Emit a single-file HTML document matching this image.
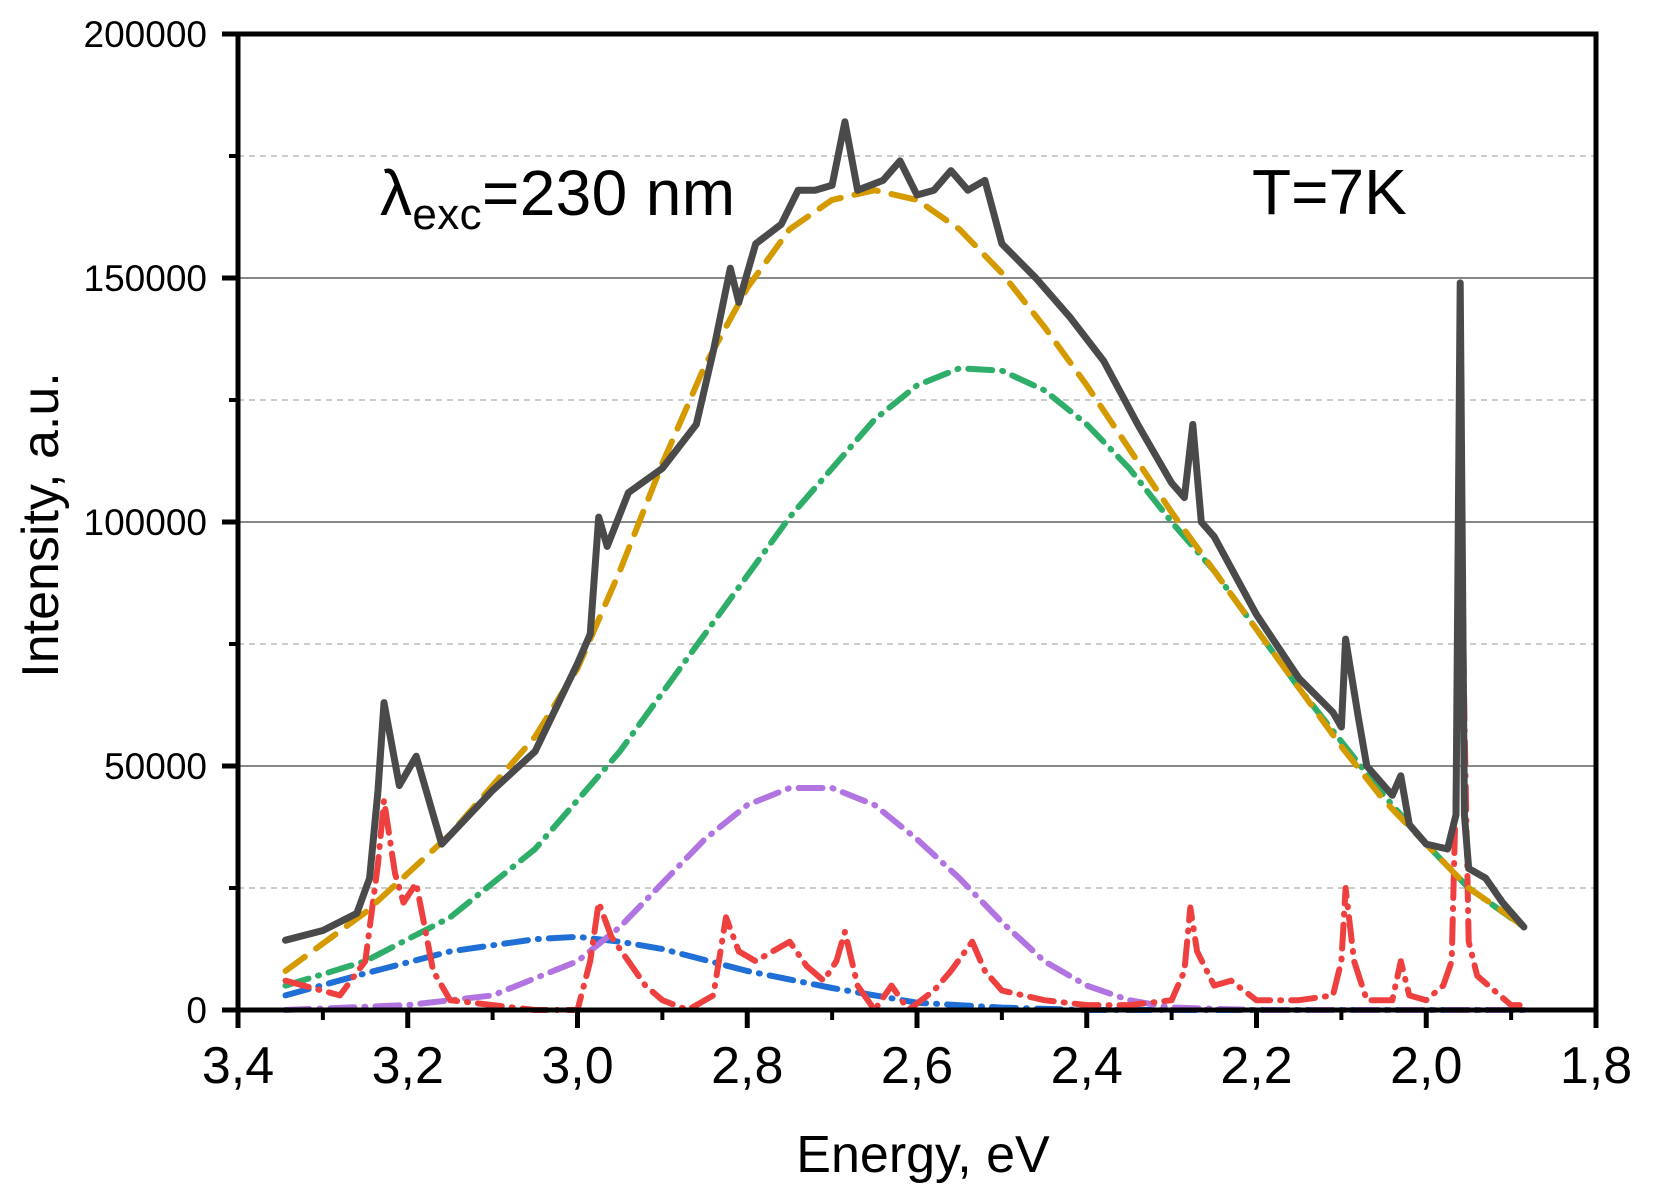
<!DOCTYPE html>
<html><head><meta charset="utf-8"><style>
html,body{margin:0;padding:0;background:#fff;}
svg{display:block;font-family:"Liberation Sans",Arial,sans-serif;}
</style></head><body>
<svg id="chart" width="1663" height="1191" viewBox="0 0 1663 1191">
<g id="grid"></g>
<g id="series"></g>
<rect x="238" y="34" width="1358" height="976" fill="none" stroke="#000" stroke-width="5"/>
<g id="axes"></g>
<text x="58" y="525" transform="rotate(-90 58 525)" font-size="52" text-anchor="middle">Intensity, a.u.</text>
<text x="923" y="1172" font-size="52" text-anchor="middle">Energy, eV</text>
<text x="380" y="215" font-size="64" textLength="355">λ<tspan font-size="44" dy="14">exc</tspan><tspan dy="-14">=230 nm</tspan></text>
<text x="1252" y="214" font-size="64">T=7K</text>
</svg>
<script>
const xTicks=[3.4,3.2,3.0,2.8,2.6,2.4,2.2,2.0,1.8];
const xTickLabels=["3,4","3,2","3,0","2,8","2,6","2,4","2,2","2,0","1,8"];
const yTicks=[0,50000,100000,150000,200000];
const yTickLabels=["0","50000","100000","150000","200000"];
const yMinor=[25000,75000,125000,175000];
const totalE=[3.344,3.30,3.26,3.245,3.235,3.228,3.21,3.19,3.16,3.10,3.05,3.0,2.985,2.975,2.965,2.94,2.9,2.86,2.84,2.82,2.81,2.79,2.76,2.74,2.72,2.70,2.685,2.67,2.64,2.62,2.60,2.58,2.56,2.54,2.52,2.50,2.46,2.42,2.38,2.34,2.30,2.285,2.275,2.265,2.25,2.20,2.15,2.11,2.10,2.095,2.08,2.07,2.04,2.03,2.02,2.0,1.975,1.965,1.96,1.955,1.95,1.93,1.91,1.885];
const totalI=[14300,16300,19800,27000,45000,63000,46000,52000,34000,45000,53000,71000,77000,101000,95000,106000,111000,120000,135000,152000,145000,157000,161000,168000,168000,169000,182000,168000,170000,174000,167000,168000,172000,168000,170000,157000,150000,142000,133000,120000,108000,105000,120000,100000,97000,81000,68000,61000,58000,76000,60000,50000,44000,48000,38000,34000,33000,40000,149000,40000,29000,27000,22000,17000];
const fitE=[3.344,3.25,3.15,3.05,3.0,2.95,2.9,2.85,2.8,2.75,2.7,2.65,2.6,2.55,2.5,2.45,2.4,2.35,2.3,2.25,2.2,2.15,2.1,2.05,2.0,1.95,1.9,1.885];
const fitI=[8000,20000,36000,56000,70000,90000,112000,132000,148000,160000,166000,168000,166000,160000,151000,140000,128000,115000,102000,90000,78000,66000,54000,43000,34000,25000,19000,17000];
const greenE=[3.344,3.25,3.15,3.05,2.95,2.85,2.75,2.7,2.65,2.6,2.55,2.5,2.45,2.4,2.35,2.3,2.25,2.2,2.15,2.1,2.05,2.0,1.95,1.885];
const greenI=[5000,10000,19000,33000,53000,77000,101000,111000,121000,128000,131500,131000,127000,120000,111000,100000,90000,78000,66000,55000,44000,34000,25000,17000];
const purpleE=[3.344,3.2,3.1,3.0,2.95,2.9,2.85,2.8,2.75,2.7,2.65,2.6,2.55,2.5,2.45,2.4,2.35,2.3,2.2,1.885];
const purpleI=[0,1000,3000,10000,17000,26000,35000,42000,45500,45500,42000,35000,27000,18000,10000,5000,2000,500,0,0];
const blueE=[3.344,3.25,3.15,3.05,3.0,2.95,2.9,2.8,2.7,2.6,2.5,2.4,1.885];
const blueI=[3000,7500,12000,14500,15000,14000,12500,8000,4500,1500,500,0,0];
const redE=[3.344,3.28,3.25,3.235,3.228,3.215,3.205,3.19,3.17,3.15,3.10,3.05,3.0,2.985,2.975,2.96,2.94,2.92,2.9,2.87,2.84,2.825,2.81,2.79,2.77,2.75,2.73,2.71,2.695,2.685,2.67,2.65,2.63,2.61,2.58,2.56,2.535,2.52,2.5,2.45,2.4,2.35,2.30,2.285,2.278,2.27,2.25,2.23,2.2,2.15,2.11,2.10,2.095,2.085,2.07,2.04,2.03,2.02,2.0,1.98,1.97,1.963,1.96,1.955,1.95,1.94,1.92,1.90,1.89];
const redI=[6000,3000,10000,30000,43000,28000,22000,26000,8000,2000,1000,0,0,10000,22000,15000,10000,5000,2000,0,3000,19000,12000,10000,12000,14000,9000,6000,10000,16000,5000,0,5000,0,4000,8000,14000,8000,4000,2000,1000,1000,2000,8000,21000,12000,5000,6000,2000,2000,3000,10000,25000,10000,2000,2000,10000,3000,2000,5000,10000,60000,122000,60000,14000,7000,4000,1000,1000];

const NS="http://www.w3.org/2000/svg";
const X0=238,X1=1596,Y0=1010,Y1=34;
function xs(e){return X0+(3.4-e)/1.6*(X1-X0);}
function ys(v){return Y0-v/200000*(Y0-Y1);}
function mk(tag,attrs,parent){const el=document.createElementNS(NS,tag);for(const k in attrs)el.setAttribute(k,attrs[k]);parent.appendChild(el);return el;}
const grid=document.getElementById('grid'),axes=document.getElementById('axes'),series=document.getElementById('series');
yTicks.forEach((v,i)=>{
  if(v>0&&v<200000){const g=mk('line',{x1:X0,x2:X1,y1:ys(v),y2:ys(v),stroke:'#888','stroke-width':2},grid);
  
  }
  const t=mk('line',{x1:X0-16,x2:X0,y1:ys(v),y2:ys(v),stroke:'#000','stroke-width':5},axes);
  
  
  const l=mk('text',{x:207,y:ys(v)+13,'font-size':37,'text-anchor':'end'},axes);
  l.textContent=yTickLabels[i];
  
  
});
yMinor.forEach(v=>{
  const g=mk('line',{x1:X0,x2:X1,y1:ys(v),y2:ys(v),stroke:'#bbb','stroke-width':1.5,'stroke-dasharray':'6,5'},grid);
  
  
  const t=mk('line',{x1:X0-9,x2:X0,y1:ys(v),y2:ys(v),stroke:'#000','stroke-width':4},axes);
  
  
});
xTicks.forEach((e,i)=>{
  const t=mk('line',{x1:xs(e),x2:xs(e),y1:Y0,y2:Y0+18,stroke:'#000','stroke-width':5},axes);
  
  
  const l=mk('text',{x:xs(e),y:1083,'font-size':52,'text-anchor':'middle'},axes);
  l.textContent=xTickLabels[i];
  
  
  if(i<xTicks.length-1){const m=mk('line',{x1:xs(e-0.1),x2:xs(e-0.1),y1:Y0,y2:Y0+10,stroke:'#000','stroke-width':4},axes);
  
  }
});
function path(E,I,color,w,dash,name){
  const d=E.map((e,i)=>(i?'L':'M')+xs(e).toFixed(1)+','+ys(I[i]).toFixed(1)).join(' ');
  const p=mk('path',{d:d,fill:'none',stroke:color,'stroke-width':w,'stroke-linecap':'round','stroke-linejoin':'round'},series);
  if(dash)p.setAttribute('stroke-dasharray',dash);
  
  
}
path(blueE,blueI,'#1f6fd6',6,'24,10,1,10','gaussian-blue');
path(purpleE,purpleI,'#b274e0',6,'24,10,1,10','gaussian-purple');
path(greenE,greenI,'#2fae6a',6,'24,10,1,10','gaussian-green');
path(redE,redI,'#ef4040',6,'24,10,1,10','residual-red');
path(fitE,fitI,'#d49a00',6,'24,14','fit-envelope');
path(totalE,totalI,'#4a4a4a',7,null,'measured-spectrum');
</script>
</body></html>
